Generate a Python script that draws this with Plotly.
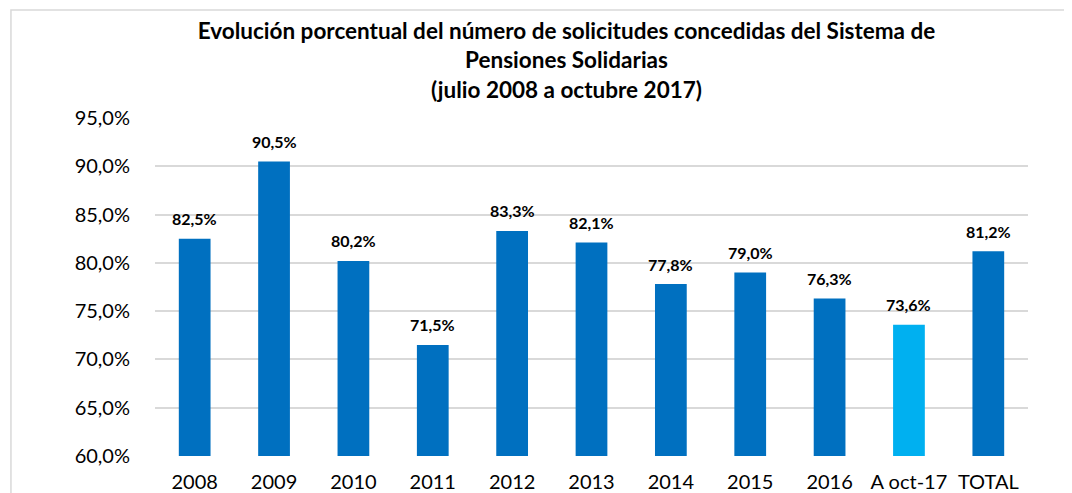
import plotly.graph_objects as go

categories = ["2008", "2009", "2010", "2011", "2012", "2013", "2014", "2015", "2016", "A oct-17", "TOTAL"]
values = [82.5, 90.5, 80.2, 71.5, 83.3, 82.1, 77.8, 79.0, 76.3, 73.6, 81.2]
bar_colors = ["#0070C0"] * 9 + ["#00B0F0", "#0070C0"]
y_ticks = [60, 65, 70, 75, 80, 85, 90, 95]
y_tick_labels = [f"{v:.1f}%".replace(".", ",") for v in y_ticks]
value_labels = [f"{v:.1f}%".replace(".", ",") for v in values]

FONT = "Lato, Carlito, Calibri, sans-serif"

fig = go.Figure()
fig.add_trace(go.Bar(
    x=categories, y=values, marker=dict(color=bar_colors, line=dict(width=0)),
    hoverinfo="skip",
))

# value labels: category axes take the category index for annotation positions
for i, (v, t) in enumerate(zip(values, value_labels)):
    fig.add_annotation(x=i, y=v, text=f"<b>{t}</b>", showarrow=False,
                       yanchor="middle", yshift=20,
                       font=dict(family=FONT, size=16, color="#000000"))

# chart frame (partially cropped like the reference)
fig.add_shape(type="rect", xref="paper", yref="paper",
              x0=-0.165, x1=1.1, y0=-0.2, y1=1.3195,
              line=dict(color="#D9D9D9", width=1.5), fillcolor="rgba(0,0,0,0)", layer="below")

fig.update_layout(
    template="none",
    width=1072, height=493,
    margin=dict(l=147, r=52, t=110, b=45, autoexpand=False),
    paper_bgcolor="white", plot_bgcolor="white",
    bargap=0.6, showlegend=False,
    title=dict(
        text="<b>Evolución porcentual del número de solicitudes concedidas del Sistema de<br>Pensiones Solidarias<br>(julio 2008 a octubre 2017)</b>",
        x=0.521, xanchor="center", xref="container", y=0.937, yanchor="top", yref="container",
        font=dict(family=FONT, size=22.5, color="#000000"),
    ),
    font=dict(family=FONT, color="#000000"),
)
fig.update_xaxes(type="category", range=[-0.5, 10.5], showgrid=False, showline=False, ticks="",
                 automargin=False, ticklabelstandoff=12,
                 tickfont=dict(family=FONT, size=20, color="#000000"))
fig.update_yaxes(range=[60, 95], tickvals=y_ticks, ticktext=y_tick_labels,
                 showgrid=True, gridcolor="#D9D9D9", gridwidth=2, zeroline=False,
                 showline=False, ticks="", ticklabelstandoff=24, automargin=False,
                 tickfont=dict(family=FONT, size=20, color="#000000"))

fig.write_html("out.html")
